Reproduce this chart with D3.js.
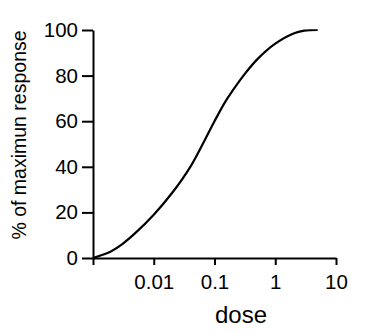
<!DOCTYPE html>
<html>
<head>
<meta charset="utf-8">
<script src="https://cdn.jsdelivr.net/npm/d3@7"></script>
<style>
  html, body { margin: 0; padding: 0; background: #fff; }
  svg { display: block; }
  text { font-family: Arial, "Liberation Sans", sans-serif; fill: #000; }
</style>
</head>
<body>
<svg id="chart"></svg>
<script>
const width = 372;
const height = 333;

// dose-response curve
const doses = [0.001, 0.002, 0.003, 0.005, 0.01, 0.02, 0.04, 0.07, 0.1, 0.15, 0.2, 0.3, 0.5, 1, 2, 3, 5];
const responses = [0, 3, 6, 11, 19, 28.5, 40, 52, 60, 68.5, 73.5, 80, 87, 94, 98.5, 99.7, 100];

const xTicks = [0.001, 0.01, 0.1, 1, 10];
const xTickLabels = ['', '0.01', '0.1', '1', '10'];
const yTicks = [0, 20, 40, 60, 80, 100];

const xTitle = 'dose';
const yTitle = '% of maximun response';

const margin = { top: 30, right: 36, bottom: 75, left: 93 };

const svg = d3.select('#chart')
  .attr('width', width)
  .attr('height', height);

const x = d3.scaleLog()
  .domain([0.001, 10])
  .range([margin.left, width - margin.right]);

const y = d3.scaleLinear()
  .domain([0, 100])
  .range([height - margin.bottom, margin.top]);

const xAxis = svg.append('g')
  .attr('transform', `translate(0,${y(0)})`)
  .call(d3.axisBottom(x)
    .tickValues(xTicks)
    .tickFormat((d, i) => xTickLabels[i])
    .tickSize(7)
    .tickSizeOuter(0)
    .tickPadding(9));

const yAxis = svg.append('g')
  .attr('transform', `translate(${x(0.001)},0)`)
  .call(d3.axisLeft(y)
    .tickValues(yTicks)
    .tickSize(11)
    .tickSizeOuter(0)
    .tickPadding(4));

[xAxis, yAxis].forEach(g => {
  g.selectAll('path, line').attr('stroke', '#000').attr('stroke-width', 2);
  g.selectAll('text')
    .style('font-family', 'Arial, "Liberation Sans", sans-serif')
    .style('font-size', '20.5px')
    .attr('fill', '#000');
});

const line = d3.line()
  .x((d, i) => x(doses[i]))
  .y(d => y(d))
  .curve(d3.curveCatmullRom);

svg.append('path')
  .datum(responses)
  .attr('d', line)
  .attr('fill', 'none')
  .attr('stroke', '#000')
  .attr('stroke-width', 2.2);

svg.append('text')
  .attr('x', 241)
  .attr('y', 323)
  .attr('text-anchor', 'middle')
  .style('font-size', '24px')
  .text(xTitle);

svg.append('text')
  .attr('transform', 'translate(26,135) rotate(-90)')
  .attr('text-anchor', 'middle')
  .style('font-size', '19.5px')
  .text(yTitle);
</script>
</body>
</html>
